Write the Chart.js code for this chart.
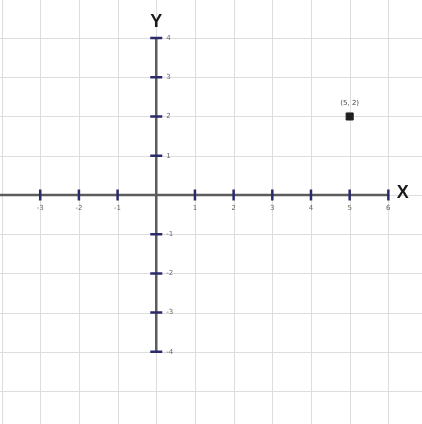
<!DOCTYPE html>
<html>
<head>
<meta charset="utf-8">
<script src="https://cdn.jsdelivr.net/npm/chart.js@4"></script>
<style>
  html, body { margin: 0; padding: 0; background: #fff; }
  #wrap { width: 422px; height: 424px; }
</style>
</head>
<body>
<div id="wrap"><canvas id="plane"></canvas></div>
<script>
// Coordinate plane with a single plotted point.
var xTicks = [-3, -2, -1, 1, 2, 3, 4, 5, 6];
var yTicks = [-4, -3, -2, -1, 1, 2, 3, 4];
var gridX = [-4, -3, -2, -1, 0, 1, 2, 3, 4, 5, 6];
var gridY = [-5, -4, -3, -2, -1, 0, 1, 2, 3, 4];
var pointsX = [5];
var pointsY = [2];
var pointLabels = ["(5, 2)"];

var tickColor = "#2b2a6b";
var axisColor = "#5c5c5c";
var gridColor = "#dedede";
var labelFont = "7px 'DejaVu Sans', sans-serif";

var planePlugin = {
  id: "plane",
  beforeDatasetsDraw: function (chart) {
    var ctx = chart.ctx, xs = chart.scales.x, ys = chart.scales.y;
    var area = chart.chartArea;
    var x0 = xs.getPixelForValue(0), y0 = ys.getPixelForValue(0);
    ctx.save();
    // grid
    ctx.strokeStyle = gridColor;
    ctx.lineWidth = 1;
    ctx.beginPath();
    gridX.forEach(function (v) {
      var px = Math.round(xs.getPixelForValue(v)) + 0.5;
      ctx.moveTo(px, area.top);
      ctx.lineTo(px, area.bottom);
    });
    gridY.forEach(function (v) {
      var py = Math.round(ys.getPixelForValue(v)) + 0.5;
      ctx.moveTo(area.left, py);
      ctx.lineTo(area.right, py);
    });
    ctx.stroke();
    // axes
    ctx.strokeStyle = axisColor;
    ctx.lineWidth = 2.5;
    ctx.beginPath();
    ctx.moveTo(area.left, y0);
    ctx.lineTo(xs.getPixelForValue(6), y0);
    ctx.moveTo(x0, ys.getPixelForValue(4));
    ctx.lineTo(x0, ys.getPixelForValue(-4));
    ctx.stroke();
    // tick marks
    ctx.strokeStyle = tickColor;
    ctx.lineWidth = 2.5;
    ctx.beginPath();
    xTicks.forEach(function (v) {
      var px = xs.getPixelForValue(v);
      ctx.moveTo(px, y0 - 5.5);
      ctx.lineTo(px, y0 + 5.5);
    });
    yTicks.forEach(function (v) {
      var py = ys.getPixelForValue(v);
      ctx.moveTo(x0 - 6, py);
      ctx.lineTo(x0 + 6, py);
    });
    ctx.stroke();
    // tick labels
    ctx.fillStyle = "#666";
    ctx.font = labelFont;
    ctx.textAlign = "center";
    ctx.textBaseline = "middle";
    xTicks.forEach(function (v) {
      ctx.fillText(String(v), xs.getPixelForValue(v), y0 + 13);
    });
    ctx.textAlign = "left";
    yTicks.forEach(function (v) {
      ctx.fillText(String(v), x0 + 10, ys.getPixelForValue(v));
    });
    // axis names
    ctx.fillStyle = "#1a1a1a";
    ctx.font = "bold 18px 'Liberation Sans', Arial, sans-serif";
    ctx.textAlign = "center";
    ctx.fillText("X", xs.getPixelForValue(6.37), y0 - 2);
    ctx.fillText("Y", x0, ys.getPixelForValue(4.4));
    ctx.restore();
  },
  afterDatasetsDraw: function (chart) {
    var ctx = chart.ctx, xs = chart.scales.x, ys = chart.scales.y;
    ctx.save();
    ctx.fillStyle = "#444";
    ctx.font = labelFont;
    ctx.textAlign = "center";
    ctx.textBaseline = "middle";
    pointsX.forEach(function (v, i) {
      ctx.fillText(pointLabels[i], xs.getPixelForValue(v), ys.getPixelForValue(pointsY[i]) - 13);
    });
    ctx.restore();
  }
};

new Chart(document.getElementById("plane"), {
  type: "scatter",
  data: {
    datasets: [
      {
        data: pointsX.map(function (v, i) { return { x: v, y: pointsY[i] }; }),
        pointStyle: "rect",
        pointRadius: 5,
        backgroundColor: "#1f1f1f",
        borderColor: "#1f1f1f",
        borderWidth: 1,
        clip: false,
      },
    ],
  },
  options: {
    responsive: true,
    maintainAspectRatio: false,
    animation: false,
    layout: { padding: 0, autoPadding: false },
    plugins: { legend: { display: false }, tooltip: { enabled: false } },
    scales: {
      x: { type: "linear", display: false, min: -4.04, max: 6.87 },
      y: { type: "linear", display: false, min: -5.84, max: 4.97 },
    },
  },
  plugins: [planePlugin],
});
</script>
</body>
</html>
